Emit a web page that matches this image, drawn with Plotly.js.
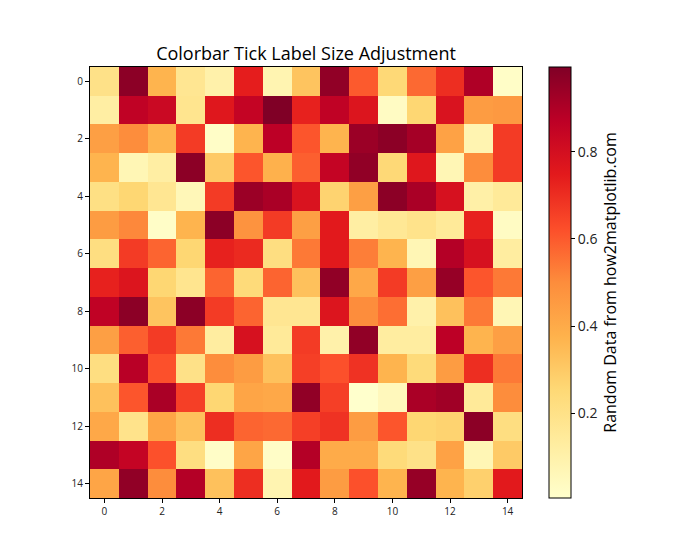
<!DOCTYPE html>
<html>
<head>
<meta charset="utf-8">
<script src="https://cdn.plot.ly/plotly-3.0.1.min.js"></script>
<style>html,body{margin:0;padding:0;background:#fff;}#chart{width:700px;height:560px;}</style>
</head>
<body>
<div id="chart"></div>
<script>
const xLabels = [0,1,2,3,4,5,6,7,8,9,10,11,12,13,14];
const yLabels = [0,1,2,3,4,5,6,7,8,9,10,11,12,13,14];
const row0  = [0.20,0.97,0.37,0.17,0.10,0.74,0.08,0.32,0.96,0.60,0.25,0.57,0.70,0.90,0.02];
const row1  = [0.12,0.86,0.83,0.18,0.76,0.85,0.995,0.73,0.86,0.77,0.03,0.26,0.78,0.45,0.46];
const row2  = [0.44,0.50,0.37,0.67,0.02,0.37,0.87,0.61,0.37,0.94,0.97,0.92,0.43,0.08,0.67];
const row3  = [0.37,0.07,0.12,0.97,0.30,0.61,0.38,0.59,0.85,0.96,0.25,0.76,0.07,0.50,0.67];
const row4  = [0.21,0.26,0.17,0.06,0.67,0.94,0.91,0.78,0.27,0.44,0.97,0.91,0.79,0.11,0.15];
const row5  = [0.45,0.51,0.02,0.37,0.97,0.48,0.67,0.44,0.75,0.12,0.16,0.19,0.15,0.73,0.03];
const row6  = [0.22,0.67,0.58,0.26,0.73,0.71,0.22,0.54,0.75,0.53,0.37,0.07,0.89,0.79,0.13];
const row7  = [0.73,0.77,0.26,0.18,0.58,0.24,0.58,0.33,0.96,0.41,0.67,0.44,0.95,0.61,0.54];
const row8  = [0.86,0.97,0.32,0.97,0.67,0.58,0.17,0.17,0.77,0.50,0.56,0.10,0.33,0.54,0.07];
const row9  = [0.44,0.59,0.67,0.54,0.13,0.79,0.15,0.67,0.10,0.96,0.13,0.13,0.87,0.37,0.44];
const row10 = [0.22,0.88,0.62,0.20,0.50,0.45,0.33,0.66,0.62,0.69,0.37,0.24,0.45,0.70,0.54];
const row11 = [0.33,0.61,0.91,0.66,0.26,0.42,0.41,0.96,0.66,0.005,0.05,0.91,0.93,0.15,0.50];
const row12 = [0.41,0.19,0.42,0.33,0.70,0.58,0.57,0.66,0.69,0.45,0.61,0.26,0.27,0.97,0.22];
const row13 = [0.90,0.85,0.62,0.22,0.02,0.42,0.02,0.89,0.40,0.40,0.24,0.20,0.43,0.07,0.30];
const row14 = [0.42,0.96,0.50,0.89,0.33,0.70,0.08,0.75,0.45,0.62,0.37,0.95,0.37,0.28,0.75];
const values = [row0,row1,row2,row3,row4,row5,row6,row7,row8,row9,row10,row11,row12,row13,row14];

const ylorrd = [
  [0.0,'#ffffcc'],[0.125,'#ffeda0'],[0.25,'#fed976'],[0.375,'#feb24c'],
  [0.5,'#fd8d3c'],[0.625,'#fc4e2a'],[0.75,'#e31a1c'],[0.875,'#bd0026'],[1.0,'#800026']
];
const font = '"Open Sans", "Noto Sans", "DejaVu Sans", sans-serif';

const trace = {
  type: 'heatmap',
  x: xLabels,
  y: yLabels,
  z: values,
  colorscale: ylorrd,
  xgap: 0, ygap: 0,
  colorbar: {
    x: 1.0625, xanchor: 'left', xref: 'paper',
    y: 0.5, yanchor: 'middle',
    len: 1, lenmode: 'fraction',
    thickness: 22, thicknessmode: 'pixels',
    outlinewidth: 1, outlinecolor: '#000',
    ticks: 'outside', ticklen: 4, tickcolor: '#000',
    tick0: 0, dtick: 0.2, tickformat: '.1f',
    tickfont: {family: font, size: 14, color: '#222'},
    title: {text: 'Random Data from how2matplotlib.com', side: 'right', font: {family: font, size: 16, color: '#000'}},
    xpad: 0, ypad: 0
  }
};

const layout = {
  width: 700, height: 560,
  margin: {l: 90, r: 178, t: 67, b: 62},
  paper_bgcolor: '#fff', plot_bgcolor: '#fff',
  title: {text: 'Colorbar Tick Label Size Adjustment', font: {family: font, size: 18, color: '#000'}, x: 0.5, xref: 'paper', xanchor: 'center', y: 1, yref: 'paper', yanchor: 'bottom', pad: {b: 7}},
  xaxis: {range: [-0.5, 14.5], tickmode: 'array', tickvals: [0,2,4,6,8,10,12,14], ticks: 'outside', ticklen: 4, tickcolor: '#000',
    showline: true, mirror: true, linecolor: '#000', linewidth: 1, showgrid: false, zeroline: false,
    tickfont: {family: font, size: 10, color: '#222'}},
  yaxis: {range: [14.5, -0.5], tickmode: 'array', tickvals: [0,2,4,6,8,10,12,14], ticks: 'outside', ticklen: 4, tickcolor: '#000',
    showline: true, mirror: true, linecolor: '#000', linewidth: 1, showgrid: false, zeroline: false,
    tickfont: {family: font, size: 10, color: '#222'}}
};

Plotly.newPlot('chart', [trace], layout, {displayModeBar: false, staticPlot: true});
</script>
</body>
</html>
